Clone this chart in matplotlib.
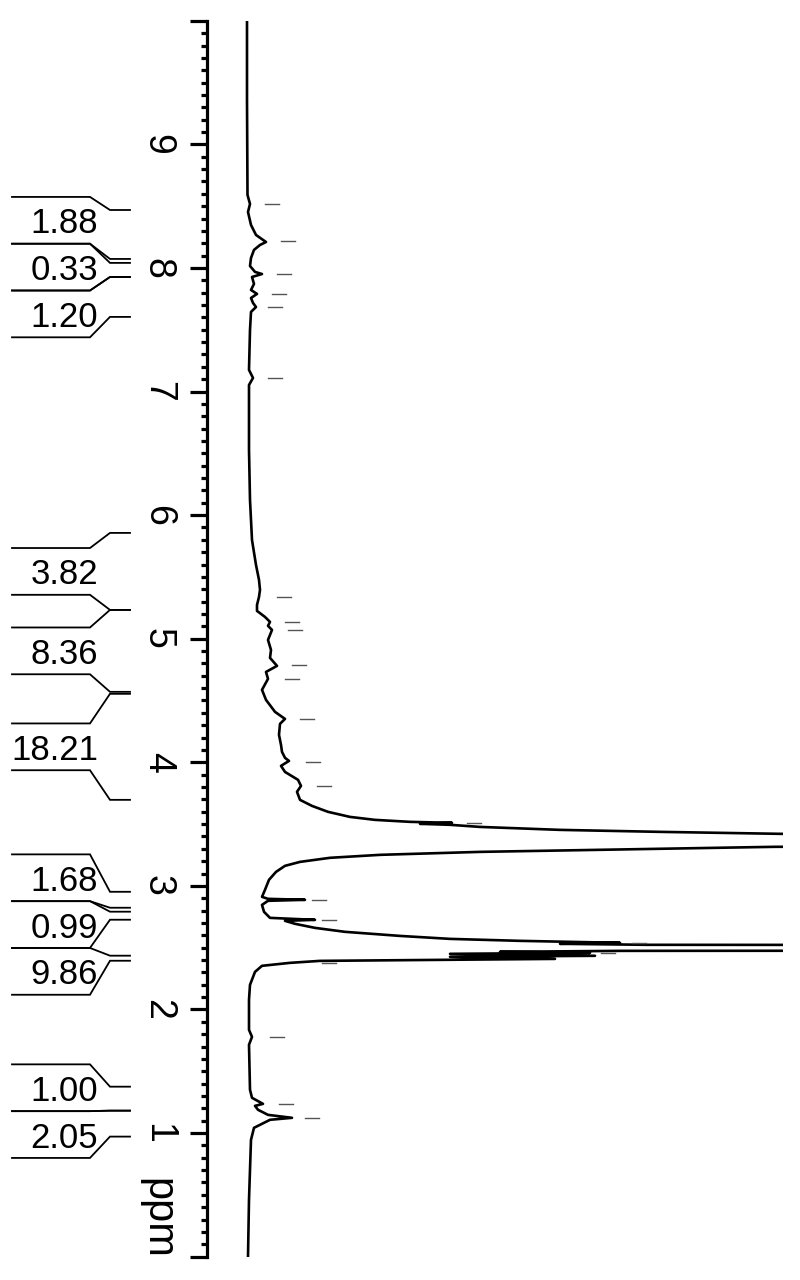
import numpy as np
import matplotlib
matplotlib.use('Agg')
import matplotlib.pyplot as plt
from matplotlib.transforms import blended_transform_factory

# ---------------- data ----------------
trace_ppm = [10.0, 9.359, 8.591, 8.518, 8.453, 8.348, 8.267, 8.227, 8.210, 8.186,
             8.146, 8.081, 8.016, 7.968, 7.951, 7.927, 7.871, 7.822, 7.790, 7.757,
             7.717, 7.684, 7.644, 7.498, 7.175, 7.110, 7.053, 6.528, 6.123, 5.799,
             5.597, 5.476, 5.395, 5.338, 5.273, 5.225, 5.176, 5.136, 5.104, 5.071,
             4.990, 4.909, 4.845, 4.780, 4.731, 4.675, 4.586, 4.505, 4.408, 4.351,
             4.311, 4.222, 4.141, 4.084, 4.036, 4.011, 3.971, 3.922, 3.858, 3.809,
             3.761, 3.696, 3.647, 3.599, 3.558, 3.534, 3.518, 3.510, 3.502, 3.494,
             3.477, 3.453, 3.437, 3.421, 3.396, 3.340, 3.316, 3.299, 3.275, 3.251,
             3.227, 3.194, 3.162, 3.113, 3.049, 2.968, 2.911, 2.895, 2.887, 2.879,
             2.846, 2.790, 2.741, 2.725, 2.717, 2.693, 2.660, 2.628, 2.595, 2.571,
             2.555, 2.539, 2.531, 2.523, 2.511, 2.486, 2.474, 2.466, 2.458, 2.450,
             2.434, 2.426, 2.409, 2.393, 2.377, 2.353, 2.304, 2.199, 2.078, 1.835,
             1.778, 1.714, 1.350, 1.285, 1.236, 1.220, 1.188, 1.147, 1.123, 1.107,
             1.074, 1.042, 0.945, 0.460, 0.0]
trace_int = [0, 0, 0.5, 3, 1, 4, 9, 16, 19, 13,
             7, 4, 3, 8, 15, 5, 7, 4, 10, 4,
             6, 9, 4, 3, 2, 6, 2, 2, 3, 5,
             9, 12, 13, 12, 10, 10, 18, 23, 21, 25,
             21, 24, 23, 30, 19, 21, 15, 19, 28, 38,
             33, 32, 34, 35, 38, 42, 34, 38, 51, 54,
             50, 53, 65, 81, 103, 128, 163, 205, 173, 203,
             233, 313, 413, 533, 2000, 2000, 528, 403, 233, 133,
             83, 53, 38, 29, 22, 18, 15, 21, 58, 21,
             15, 17, 23, 68, 38, 48, 68, 98, 153, 203,
             273, 373, 313, 400, 3000, 3000, 373, 253, 343, 203,
             348, 203, 308, 73, 43, 15, 8, 3, 2, 2,
             5, 2, 3, 5, 16, 8, 11, 21, 45, 23,
             15, 7, 4, 2, 1]

peak_ppm = [8.518, 8.218, 7.951, 7.790, 7.684, 7.110, 5.338, 5.136, 5.071, 4.788,
            4.675, 4.351, 4.003, 3.809, 3.510, 2.887, 2.725, 2.539, 2.458, 2.377,
            1.778, 1.236, 1.123]
peak_mark = [18, 34, 30, 25, 21, 21, 30, 38, 41, 45,
             38, 53, 59, 70, 220, 65, 75, 385, 354, 75,
             23, 32, 58]

integral_start = [8.469, 8.041, 7.927, 5.856, 5.233, 4.554, 2.952, 2.791, 2.435, 1.375, 1.181]
integral_end = [8.073, 7.927, 7.604, 5.233, 4.570, 3.696, 2.823, 2.726, 2.394, 1.181, 0.971]
integral_value = ["1.88", "0.33", "1.20", "3.82", "8.36", "18.21", "1.68", "0.99", "9.86", "1.00", "2.05"]

major_ticks = list(range(0, 11))
major_labels = ["", "1", "2", "3", "4", "5", "6", "7", "8", "9", ""]

# ---------------- figure ----------------
plt.rcParams['font.family'] = ['Liberation Sans', 'DejaVu Sans']
W, Hpx = 800, 1280
fig = plt.figure(figsize=(W / 100, Hpx / 100), dpi=100)
ax_left, ax_right, ax_top, ax_bot = 207, 783, 20.8, 1256.6
ax = fig.add_axes([ax_left / W, 1 - ax_bot / Hpx, (ax_right - ax_left) / W, (ax_bot - ax_top) / Hpx])

ax.plot(trace_int, trace_ppm, color='black', lw=1.9, solid_joinstyle='round')
for p, m in zip(peak_ppm, peak_mark):
    ax.plot([m, m + 14], [p, p], color='#555555', lw=1.0)

ax.set_xlim(-40, 536)
ax.set_ylim(0, 10)
for s in ['top', 'right', 'bottom']:
    ax.spines[s].set_visible(False)
ax.spines['left'].set_linewidth(2.3)
ax.set_xticks([])
ax.set_yticks(major_ticks)
ax.set_yticklabels(major_labels)
ax.set_yticks(np.arange(0, 10.001, 0.1), minor=True)
ax.tick_params(axis='y', which='major', length=12.5, width=2.3, direction='out',
               labelsize=27, pad=10)
ax.tick_params(axis='y', which='minor', length=4.5, width=2.3, direction='out')
for lab in ax.get_yticklabels():
    lab.set_rotation(270)
    lab.set_va('center')
    lab.set_ha('right')

# "ppm" axis label
ax.annotate('ppm', xy=(0, 0.31), xycoords=blended_transform_factory(ax.transAxes, ax.transData),
            xytext=(-50 * 0.72, 0), textcoords='offset points', rotation=270,
            ha='center', va='center', fontsize=30)

# ---------------- integrals ----------------
trans = blended_transform_factory(fig.transFigure, ax.transData)
box_h = 46.8 / 123.6  # label box height in ppm units
centers = [(s + e) / 2 for s, e in zip(integral_start, integral_end)]
clusters = [[i] for i in range(len(centers))]


def cctr(c):
    return np.mean([centers[i] for i in c])


merged = True
while merged:
    merged = False
    for k in range(len(clusters) - 1):
        a, b = clusters[k], clusters[k + 1]
        if cctr(b) + len(b) * box_h / 2 > cctr(a) - len(a) * box_h / 2:
            clusters[k] = a + b
            del clusters[k + 1]
            merged = True
            break

xs = [12 / W, 90 / W, 110 / W, 130 / W]
for c in clusters:
    top = cctr(c) + len(c) * box_h / 2
    for j, i in enumerate(c):
        bt = top - j * box_h
        bb = bt - box_h
        for b, r in ((bt, integral_start[i]), (bb, integral_end[i])):
            ax.plot(xs, [b, b, r, r], transform=trans, clip_on=False, color='black',
                    lw=1.3, solid_joinstyle='miter')
        ax.annotate(integral_value[i], xy=(98 / W, (bt + bb) / 2), xycoords=trans,
                    xytext=(0, -13 * 0.72), textcoords='offset points',
                    ha='right', va='baseline', fontsize=25, annotation_clip=False)

fig.savefig('out.png', dpi=100)
